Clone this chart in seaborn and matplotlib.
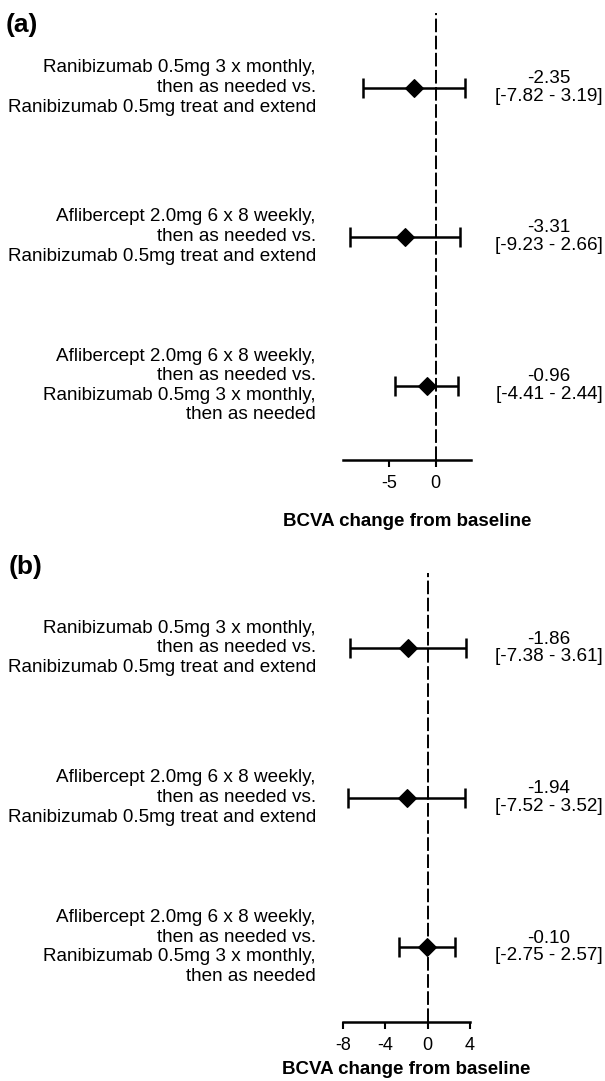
import matplotlib
matplotlib.use("Agg")
import pandas as pd
import seaborn as sns
import matplotlib.pyplot as plt
from matplotlib.transforms import blended_transform_factory

comparisons = [
    "Ranibizumab 0.5mg 3 x monthly,\nthen as needed vs.\nRanibizumab 0.5mg treat and extend",
    "Aflibercept 2.0mg 6 x 8 weekly,\nthen as needed vs.\nRanibizumab 0.5mg treat and extend",
    "Aflibercept 2.0mg 6 x 8 weekly,\nthen as needed vs.\nRanibizumab 0.5mg 3 x monthly,\nthen as needed",
]
rows = [3, 2, 1]

# panel (a)
est_a = [-2.35, -3.31, -0.96]
low_a = [-7.82, -9.23, -4.41]
high_a = [3.19, 2.66, 2.44]
ticks_a = [-5, 0]

# panel (b)
est_b = [-1.86, -1.94, -0.10]
low_b = [-7.38, -7.52, -2.75]
high_b = [3.61, 3.52, 2.57]
ticks_b = [-8, -4, 0, 4]

sns.set_style("ticks")
plt.rcParams['font.family'] = ['Liberation Sans', 'DejaVu Sans']
plt.rcParams['text.color'] = 'black'
plt.rcParams['axes.labelcolor'] = 'black'
plt.rcParams['xtick.color'] = 'black'
plt.rcParams['axes.edgecolor'] = 'black'

W, H = 605, 1081
fig = plt.figure(figsize=(W / 100, H / 100), dpi=100)


def forest(ax, est, low, high, xlim, ticks, tag, tag_xy, labelpad):
    df = pd.DataFrame({'comparison': comparisons, 'est': est,
                       'low': low, 'high': high, 'row': rows})
    ax.axvline(0, color='black', lw=1.4, linestyle=(0, (7, 1.8)), zorder=1)
    ax.errorbar(df['est'], df['row'],
                xerr=[df['est'] - df['low'], df['high'] - df['est']],
                fmt='none', ecolor='black', elinewidth=1.8,
                capsize=7, capthick=1.8, zorder=2)
    sns.scatterplot(data=df, x='est', y='row', marker='D', s=80,
                    color='black', edgecolor='black', linewidth=1,
                    ax=ax, zorder=3, legend=False)

    ax.set_xlim(*xlim)
    ax.set_ylim(0.5, 3.5)
    ax.set_xticks(ticks)
    ax.set_xticklabels([str(t) for t in ticks])
    ax.set_yticks([])
    ax.set_ylabel('')
    for s in ['top', 'right', 'left']:
        ax.spines[s].set_visible(False)
    ax.spines['bottom'].set_linewidth(1.8)
    ax.tick_params(axis='x', direction='out', length=5, width=1.5,
                   labelsize=13, pad=6)
    ax.set_xlabel('BCVA change from baseline', fontsize=13.5,
                  fontweight='bold', labelpad=labelpad)

    tr = blended_transform_factory(fig.transFigure, ax.transData)
    for _, r in df.iterrows():
        ax.text(316 / W, r['row'], r['comparison'], transform=tr,
                ha='right', va='center', fontsize=13.6, linespacing=1.2)
        ax.text(549 / W, r['row'],
                f"{r['est']:.2f}\n[{r['low']:.2f} - {r['high']:.2f}]",
                transform=tr, ha='center', va='center', fontsize=13.6,
                linespacing=1.05, multialignment='center')

    fig.text(tag_xy[0] / W, 1 - tag_xy[1] / H, tag, fontsize=19,
             fontweight='bold', ha='left', va='center')


ax_a = fig.add_axes([343 / W, 1 - 460 / H, 128 / W, 447 / H])
forest(ax_a, est_a, low_a, high_a, (-10, 3.8), ticks_a, '(a)', (6, 25), 15)

ax_b = fig.add_axes([343 / W, 1 - 1022 / H, 127 / W, 449 / H])
forest(ax_b, est_b, low_b, high_b, (-8, 4), ticks_b, '(b)', (9, 567), 5)

fig.savefig('out.png', dpi=100)
